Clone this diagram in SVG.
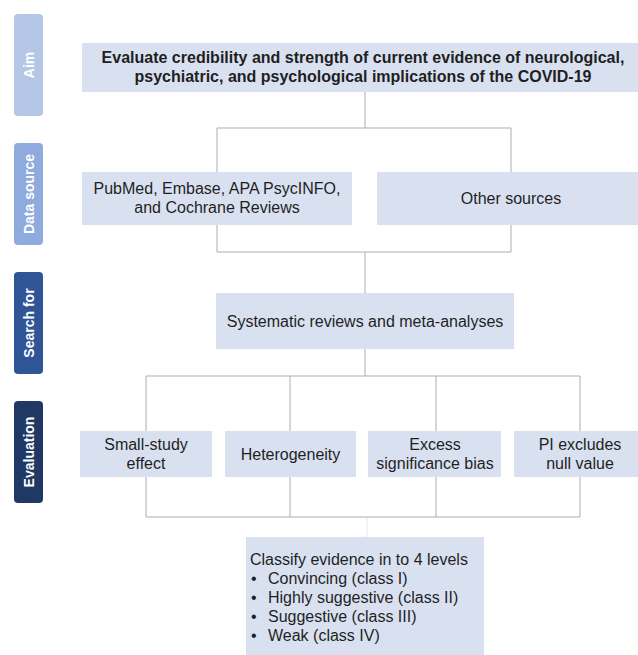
<svg xmlns="http://www.w3.org/2000/svg" width="638" height="655" viewBox="0 0 638 655">
<style>
.bg{fill:#ffffff}
.box{fill:#d9e1f1}
.t{font-family:"Liberation Sans",Arial,sans-serif;font-size:16px;fill:#1f1f1f}
.tb{font-weight:bold}
.c{text-anchor:middle}
.lab{font-family:"Liberation Sans",Arial,sans-serif;font-size:14px;font-weight:bold;fill:#ffffff;text-anchor:middle}
.conn{stroke:#a9adb3;stroke-width:1;fill:none}
.faint{stroke:#e6e9ee;stroke-width:1;fill:none}
</style>
<rect class="bg" x="0" y="0" width="638" height="655"/>
<g id="labels">
<g id="label-aim"><rect x="14" y="14" width="29" height="102" rx="4" fill="#b4c7e7"/><text class="lab" transform="translate(33.5,65) rotate(-90)">Aim</text></g>
<g id="label-data"><rect x="14" y="143" width="29" height="102" rx="4" fill="#8faadc"/><text class="lab" transform="translate(33.5,194) rotate(-90)">Data source</text></g>
<g id="label-search"><rect x="14" y="272" width="29" height="102" rx="4" fill="#2f5597"/><text class="lab" transform="translate(33.5,323) rotate(-90)">Search for</text></g>
<g id="label-eval"><rect x="14" y="401" width="29" height="102" rx="4" fill="#203864"/><text class="lab" transform="translate(33.5,452) rotate(-90)">Evaluation</text></g>
</g>
<g id="connectors">
<path class="conn" d="M365 92V128M217 128H511M217 128V172M511 128V172"/>
<path class="conn" d="M217 225V252M511 225V252M217 252H511M365 252V293"/>
<path class="conn" d="M365 349V376M146 376H580M146 376V431M290 376V431M436 376V431M580 376V431"/>
<path class="conn" d="M146 477V517M290 477V517M436 477V517M580 477V517M146 517H580"/>
<path class="faint" d="M367 518V537"/>
</g>
<g id="aim"><rect class="box" x="82" y="43" width="562" height="49"/>
<text class="t tb c" x="363" y="63">Evaluate credibility and strength of current evidence of neurological,</text>
<text class="t tb c" x="363" y="82">psychiatric, and psychological implications of the COVID-19</text></g>
<g id="databases"><rect class="box" x="82" y="172" width="270" height="53"/>
<text class="t c" x="217" y="194">PubMed, Embase, APA PsycINFO,</text>
<text class="t c" x="217" y="213">and Cochrane Reviews</text></g>
<g id="other"><rect class="box" x="377" y="172" width="268" height="53"/>
<text class="t c" x="511" y="204">Other sources</text></g>
<g id="search"><rect class="box" x="216" y="293" width="298" height="56"/>
<text class="t c" x="365" y="327">Systematic reviews and meta-analyses</text></g>
<g id="small-study"><rect class="box" x="80" y="431" width="132" height="46"/>
<text class="t c" x="146" y="450">Small-study</text><text class="t c" x="146" y="469">effect</text></g>
<g id="heterogeneity"><rect class="box" x="225" y="431" width="131" height="46"/>
<text class="t c" x="290.5" y="460">Heterogeneity</text></g>
<g id="excess"><rect class="box" x="368" y="431" width="133" height="46"/>
<text class="t c" x="435" y="450">Excess</text><text class="t c" x="435" y="469">significance bias</text></g>
<g id="pi"><rect class="box" x="514" y="431" width="132" height="46"/>
<text class="t c" x="580" y="450">PI excludes</text><text class="t c" x="580" y="469">null value</text></g>
<g id="classify"><rect class="box" x="246" y="537" width="238" height="130"/>
<text class="t" x="250" y="565">Classify evidence in to 4 levels</text>
<text class="t" x="251" y="584">•</text><text class="t" x="268" y="584">Convincing (class I)</text>
<text class="t" x="251" y="603">•</text><text class="t" x="268" y="603">Highly suggestive (class II)</text>
<text class="t" x="251" y="622">•</text><text class="t" x="268" y="622">Suggestive (class III)</text>
<text class="t" x="251" y="641">•</text><text class="t" x="268" y="641">Weak (class IV)</text></g>
</svg>
